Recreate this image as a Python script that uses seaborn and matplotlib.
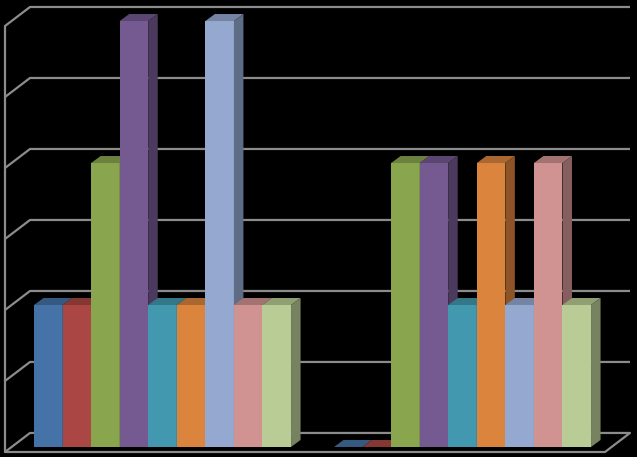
import matplotlib
matplotlib.use("Agg")
import matplotlib.pyplot as plt
from matplotlib.patches import Polygon
from matplotlib.colors import to_rgb
import seaborn as sns
import pandas as pd

# data (no labels shown in the chart)
categories = ["Group 1", "Group 2"]
series = ["S1", "S2", "S3", "S4", "S5", "S6", "S7", "S8", "S9"]
values_group1 = [2, 2, 4, 6, 2, 2, 6, 2, 2]
values_group2 = [0, 0, 4, 4, 2, 4, 2, 4, 2]
yticks = [0, 1, 2, 3, 4, 5, 6]

colors = ["#4572A7", "#AA4643", "#89A54E", "#755A91", "#4198AF",
          "#DB843D", "#95A9D0", "#D19392", "#BACC96"]

rows = []
for cat, vals in zip(categories, [values_group1, values_group2]):
    for s, v in zip(series, vals):
        rows.append({"category": cat, "series": s, "value": v})
df = pd.DataFrame(rows)

sns.set_theme(style="dark")
fig = plt.figure(figsize=(6.37, 4.57), dpi=100, facecolor="black")
ax = fig.add_axes([0, 0, 1, 1])
ax.set_facecolor("black")

sns.barplot(data=df, x="category", y="value", hue="series", palette=colors,
            width=0.857, saturation=1, linewidth=0, legend=False, ax=ax,
            errorbar=None)

ax.set_xlim(-0.5417, 1.5817)
ax.set_ylim(-0.141, 6.296)
ax.axis("off")

# pseudo 3d box (back wall, left wall, floor)
grid_col = "#8c8c8c"
lw = 1.6
fx_left, fx_right, fy = -0.525, 1.475, -0.0704
bdx, bdy = 0.0833, 0.268
for v in yticks:
    ax.plot([fx_left, fx_left + bdx, fx_right + bdx],
            [v + fy, v + fy + bdy, v + fy + bdy],
            color=grid_col, lw=lw, zorder=1, solid_capstyle="butt")
ax.plot([fx_left, fx_left], [fy, yticks[-1] + fy], color=grid_col, lw=lw, zorder=1)
ax.plot([fx_left, fx_right, fx_right + bdx], [fy, fy, fy + bdy],
        color=grid_col, lw=lw, zorder=1)

# depth faces for each bar
ddx, ddy = 0.0317, 0.0986
bars = sorted([p for p in ax.patches], key=lambda p: p.get_x())
for i, p in enumerate(bars):
    x0, w, h = p.get_x(), p.get_width(), p.get_height()
    base = to_rgb(p.get_facecolor())
    top_c = tuple(c * 0.78 for c in base)
    side_c = tuple(c * 0.64 for c in base)
    p.set_zorder(3 + 2 * i)
    top = Polygon([(x0, h), (x0 + w, h), (x0 + w + ddx, h + ddy), (x0 + ddx, h + ddy)],
                  closed=True, facecolor=top_c, edgecolor="none", zorder=4 + 2 * i)
    side = Polygon([(x0 + w, 0), (x0 + w + ddx, ddy), (x0 + w + ddx, h + ddy), (x0 + w, h)],
                   closed=True, facecolor=side_c, edgecolor="none", zorder=4 + 2 * i)
    ax.add_patch(top)
    ax.add_patch(side)

fig.savefig("out.png", dpi=100, facecolor="black")
